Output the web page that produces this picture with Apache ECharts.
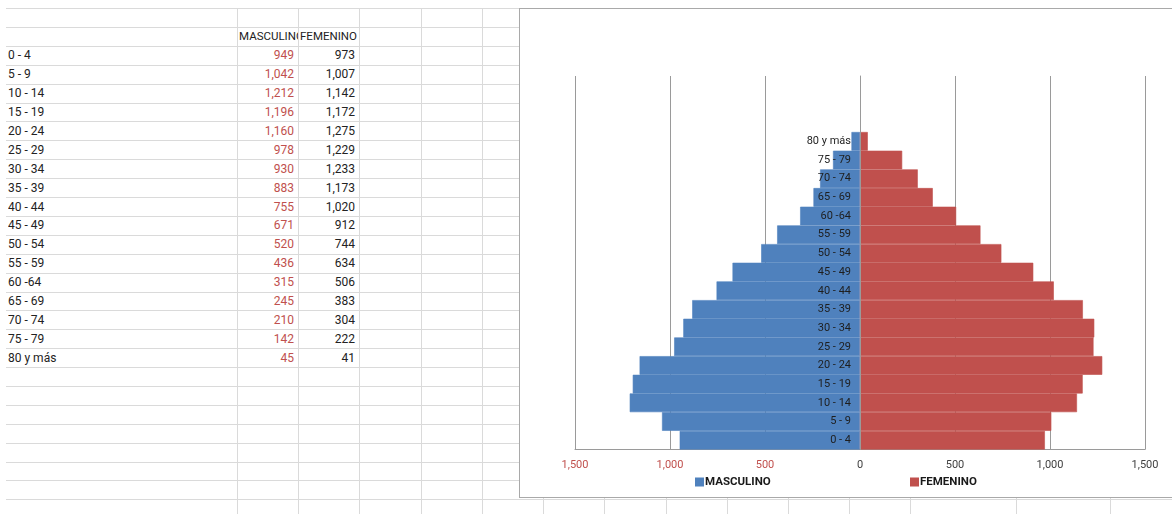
<!DOCTYPE html>
<html><head><meta charset="utf-8">
<script src="https://cdn.jsdelivr.net/npm/echarts@6/dist/echarts.min.js"></script>
<style>
html,body{margin:0;padding:0;width:1172px;height:514px;overflow:hidden;background:#fff;font-family:Roboto,'Liberation Sans',sans-serif;}
#sheet{position:absolute;left:0;top:0;width:1172px;height:514px;}
.hl{position:absolute;height:1px;background:#dadada;}
.vl{position:absolute;width:1px;background:#dadada;}
.cell{position:absolute;font-size:12px;line-height:19px;height:19px;white-space:nowrap;overflow:hidden;color:#222;}
#box{position:absolute;left:519px;top:8px;width:670px;height:488px;border:1px solid #a9a9a9;background:#fff;}
#chart{position:absolute;left:0;top:0;width:1172px;height:514px;}
</style></head>
<body>
<div id="sheet"></div>
<div id="box"></div>
<div id="chart"></div>
<script>
const ageGroups = ['0 - 4','5 - 9','10 - 14','15 - 19','20 - 24','25 - 29','30 - 34','35 - 39','40 - 44','45 - 49','50 - 54','55 - 59','60 -64','65 - 69','70 - 74','75 - 79','80 y más'];
const masculino = [949,1042,1212,1196,1160,978,930,883,755,671,520,436,315,245,210,142,45];
const femenino  = [973,1007,1142,1172,1275,1229,1233,1173,1020,912,744,634,506,383,304,222,41];
const seriesNames = ['MASCULINO','FEMENINO'];
const blankCategories = ['','',''];

const FONT = "Roboto,'Liberation Sans',sans-serif";
const fmt = v => Math.abs(v).toLocaleString('en-US');

// spreadsheet background
const sheet = document.getElementById('sheet');
const ROW0 = 8, RH = 18.9;
for (let k = 0; k <= 27; k++) {
  const d = document.createElement('div');
  d.className = 'hl';
  d.style.left = '6px'; d.style.width = '1166px';
  d.style.top = Math.round(ROW0 + RH * k) + 'px';
  sheet.appendChild(d);
}
[237,298,359,421,482,543,604,666,727,788,849,910,1016,1110].forEach(x => {
  const d = document.createElement('div');
  d.className = 'vl';
  d.style.left = x + 'px'; d.style.top = '8px'; d.style.height = '506px';
  sheet.appendChild(d);
});
function cell(text, left, width, rowIdx, align, color, size) {
  const d = document.createElement('div');
  d.className = 'cell';
  d.textContent = text;
  d.style.left = left + 'px';
  d.style.width = width + 'px';
  d.style.top = (ROW0 + RH * rowIdx + 0.5) + 'px';
  d.style.textAlign = align;
  if (align === 'right') { d.style.paddingRight = '4px'; d.style.boxSizing = 'border-box'; }
  if (color) d.style.color = color;
  if (size) d.style.fontSize = size + 'px';
  sheet.appendChild(d);
}
cell(seriesNames[0], 239, 59, 1, 'left', '#222', 11.5);
cell(seriesNames[1], 300, 59, 1, 'left', '#222', 11.5);
ageGroups.forEach((g, i) => {
  cell(g, 8, 228, i + 2, 'left');
  cell(masculino[i].toLocaleString('en-US'), 237, 61, i + 2, 'right', '#c0504d');
  cell(femenino[i].toLocaleString('en-US'), 298, 61, i + 2, 'right', '#222');
});

const chart = echarts.init(document.getElementById('chart'), null, {renderer: 'canvas'});
const legendText = {fontFamily: FONT, fontSize: 11.5, fontWeight: 'bold', color: '#1a1a1a', padding: [0,0,0,-3]};
chart.setOption({
  backgroundColor: 'transparent',
  animation: false,
  grid: {left: 575, right: 27, top: 76, bottom: 64.5},
  legend: [
    {data: [seriesNames[0]], left: 690, top: 471, icon: 'rect', itemWidth: 7, itemHeight: 7, itemGap: 0, textStyle: legendText},
    {data: [seriesNames[1]], left: 905, top: 471, icon: 'rect', itemWidth: 7, itemHeight: 7, itemGap: 0, textStyle: legendText}
  ],
  xAxis: {
    type: 'value', min: -1500, max: 1500, interval: 500,
    axisLine: {show: true, onZero: false, lineStyle: {color: '#9a9a9a'}},
    axisTick: {show: false},
    splitLine: {show: true, lineStyle: {color: '#9a9a9a', width: 1}},
    axisLabel: {
      formatter: fmt, fontFamily: FONT, fontSize: 11, margin: 10,
      color: v => (v < 0 ? '#c0504d' : '#404040')
    }
  },
  yAxis: {
    type: 'category', data: ageGroups.concat(blankCategories), z: 10,
    position: 'left', offset: -285,
    axisLine: {show: true, onZero: false, lineStyle: {color: '#9a9a9a'}},
    axisTick: {show: false},
    splitLine: {show: false},
    axisLabel: {fontFamily: FONT, fontSize: 11, color: '#1e1e1e', margin: 9}
  },
  series: [
    {name: seriesNames[0], type: 'bar', data: masculino.map(v => -v), barGap: '-100%', barCategoryGap: '0%',
     itemStyle: {color: '#4f81bd', borderColor: '#4f81bd', borderWidth: 0.6}},
    {name: seriesNames[1], type: 'bar', data: femenino, barGap: '-100%', barCategoryGap: '0%',
     itemStyle: {color: '#c0504d', borderColor: '#c0504d', borderWidth: 0.6}}
  ]
});
</script>
</body></html>
